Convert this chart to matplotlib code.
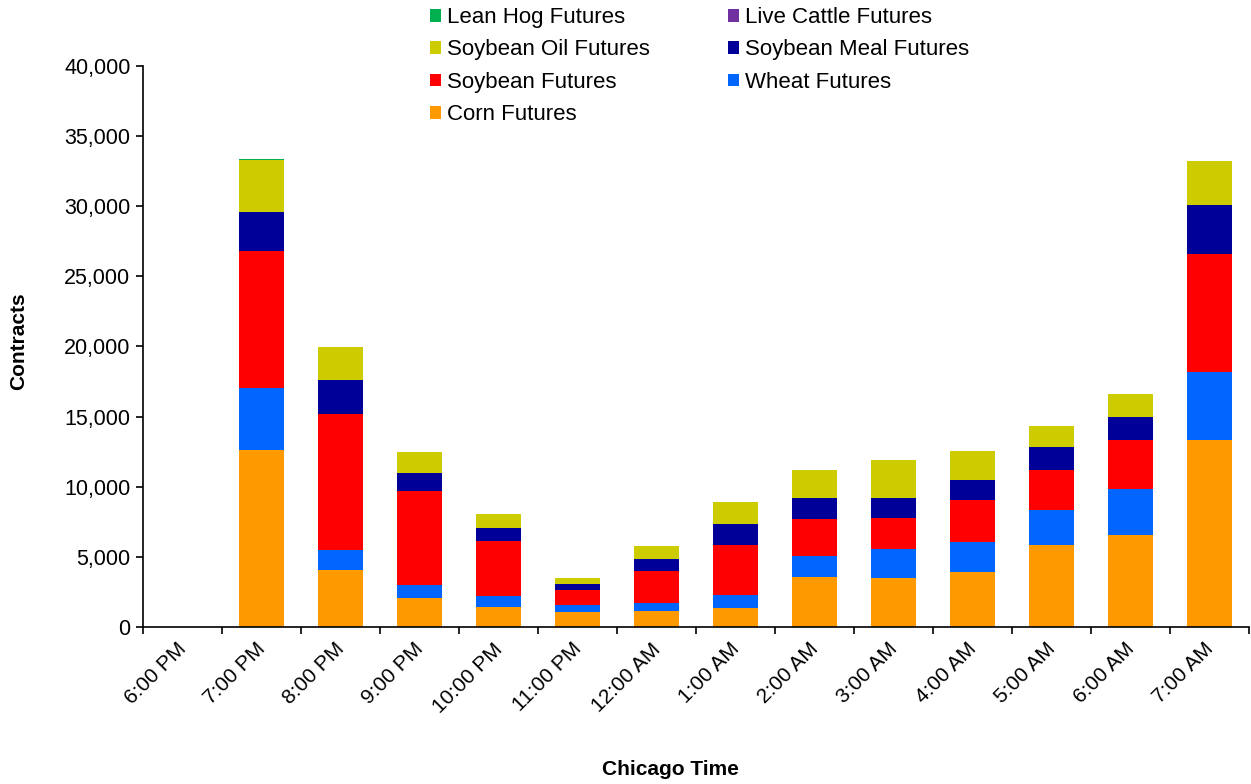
import numpy as np
import matplotlib
matplotlib.use("Agg")
import matplotlib.pyplot as plt
from matplotlib.ticker import FuncFormatter
from matplotlib.transforms import ScaledTranslation

plt.rcParams['font.family'] = ['Liberation Sans', 'DejaVu Sans']

hours = ['6:00 PM', '7:00 PM', '8:00 PM', '9:00 PM', '10:00 PM', '11:00 PM', '12:00 AM',
         '1:00 AM', '2:00 AM', '3:00 AM', '4:00 AM', '5:00 AM', '6:00 AM', '7:00 AM']

corn = [0, 12600, 4090, 2070, 1430, 1090, 1140, 1330, 3540, 3490, 3900, 5870, 6560, 13310]
wheat = [0, 4440, 1400, 900, 760, 480, 600, 930, 1500, 2070, 2180, 2490, 3260, 4870]
soybean = [0, 9770, 9670, 6700, 3940, 1090, 2280, 3590, 2660, 2190, 2980, 2860, 3510, 8390]
soy_meal = [0, 2800, 2470, 1290, 910, 430, 850, 1520, 1520, 1470, 1420, 1610, 1640, 3540]
soy_oil = [0, 3700, 2360, 1490, 1020, 430, 910, 1540, 1970, 2690, 2090, 1500, 1620, 3120]
live_cattle = [0, 0, 0, 0, 0, 0, 0, 0, 0, 0, 0, 0, 0, 0]
lean_hog = [0, 80, 0, 0, 0, 0, 0, 0, 0, 0, 0, 0, 0, 0]

series = [
    ('Corn Futures', corn, '#FF9900'),
    ('Wheat Futures', wheat, '#0066FF'),
    ('Soybean Futures', soybean, '#FF0000'),
    ('Soybean Meal Futures', soy_meal, '#000099'),
    ('Soybean Oil Futures', soy_oil, '#CCCC00'),
    ('Live Cattle Futures', live_cattle, '#7030A0'),
    ('Lean Hog Futures', lean_hog, '#00B050'),
]

fig = plt.figure(figsize=(12.51, 7.84), dpi=100)
ax = fig.add_axes([0.1143, 0.2003, 0.884, 0.7156])

x = np.arange(len(hours))
bottom = np.zeros(len(hours))
handles = {}
for name, vals, col in series:
    vals = np.array(vals, dtype=float)
    b = ax.bar(x, vals, 0.57, bottom=bottom, color=col, edgecolor='none', label=name)
    handles[name] = b
    bottom += vals

ax.set_xlim(-0.5, len(hours) - 0.5)
ax.set_ylim(0, 40000)
ax.set_yticks(np.arange(0, 40001, 5000))
ax.yaxis.set_major_formatter(FuncFormatter(lambda v, p: f'{int(v):,}'))
ax.tick_params(axis='y', labelsize=15.5, direction='out', length=5, width=1.2, pad=4)

ax.set_xticks(x)
ax.set_xticks(np.arange(-0.5, len(hours), 1), minor=True)
ax.set_xticklabels(hours, rotation=45, ha='right', rotation_mode='anchor', fontsize=15)
ax.tick_params(axis='x', which='major', length=0, pad=9)
ax.tick_params(axis='x', which='minor', length=5, width=1.2, direction='out')
shift = ScaledTranslation(-0.06, 0, fig.dpi_scale_trans)
for lbl in ax.get_xticklabels():
    lbl.set_transform(lbl.get_transform() + shift)

for s in ['top', 'right']:
    ax.spines[s].set_visible(False)
for s in ['left', 'bottom']:
    ax.spines[s].set_linewidth(1.2)

ax.set_ylabel('Contracts', fontsize=15, fontweight='bold')
ax.yaxis.set_label_coords(-0.104, 0.51)
fig.text(0.536, 0.012, 'Chicago Time', fontsize=15, fontweight='bold', ha='center')

order = ['Lean Hog Futures', 'Soybean Oil Futures', 'Soybean Futures', 'Corn Futures',
         'Live Cattle Futures', 'Soybean Meal Futures', 'Wheat Futures']
fig.legend([handles[n] for n in order], order, loc='upper left',
           bbox_to_anchor=(0.333, 1.008), ncol=2, frameon=False, fontsize=16,
           handlelength=0.5, handleheight=0.5, handletextpad=0.27,
           columnspacing=3.5, labelspacing=0.51, borderpad=0.1)

fig.savefig('out.png', dpi=100)
